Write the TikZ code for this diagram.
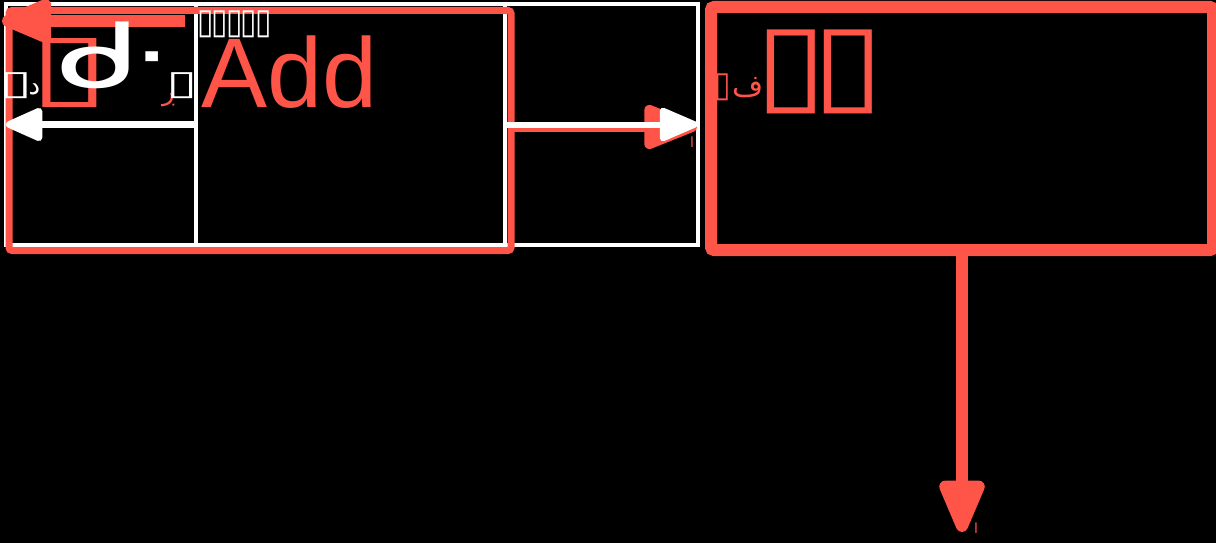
\documentclass[tikz,border=0pt]{standalone}
\usepackage{fontspec}
\setmainfont{DejaVu Sans}
\newfontfamily\arabicfont[Script=Arabic]{DejaVu Sans}
\newfontfamily\arialfont{Liberation Sans}
\usetikzlibrary{arrows.meta}
\TeXXeTstate=1
\definecolor{myred}{RGB}{255,84,72}
\newcommand{\tofu}[2]{\resizebox*{#1pt}{#2pt}{▯}}
\tikzset{
  cellbox/.style={draw=white, line width=4pt, inner sep=0pt, outer sep=0pt},
  redbox/.style={draw=myred, inner sep=0pt, outer sep=0pt, rounded corners=3pt},
  txt/.style={inner sep=0pt, outer sep=0pt, anchor=base west},
}
\begin{document}
\begin{tikzpicture}[x=1pt,y=-1pt]
\fill[black] (0,0) rectangle (1216,543);
\useasboundingbox (0,0) rectangle (1216,543);
% white cells
\node[cellbox, minimum width=190pt, minimum height=241pt] (c1) at (101,124.5) {};
\node[cellbox, minimum width=309pt, minimum height=241pt] (c2) at (350.5,124.5) {};
\node[cellbox, minimum width=193pt, minimum height=241pt] (c3) at (601.5,124.5) {};
% red boxes
\node[redbox, line width=7pt, minimum width=502pt, minimum height=240pt] (r1) at (260,130.5) {};
\node[redbox, line width=12pt, minimum width=502pt, minimum height=243pt] (r2) at (962,128.5) {};
% coordinates
\coordinate (ta) at (185,21);
\coordinate (tb) at (2,21);
\coordinate (ma) at (511,127);
\coordinate (mb) at (697,127);
\coordinate (db) at (962,532);
% arrows
\draw[myred, line width=12pt, -{Triangle[length=60pt,width=46pt,round]}] (ta) -- (tb);
\draw[white, line width=7pt, -{Triangle[length=42pt,width=35pt,round]}] (c1.east) -- (c1.west);
\draw[myred, line width=10pt, -{Triangle[length=62pt,width=46pt,round]}] (ma) -- (mb);
\draw[white, line width=6pt, -{Triangle[length=43pt,width=35pt,round]}] (c2.east) -- (c3.east);
\draw[myred, line width=12pt, -{Triangle[length=62pt,width=48pt,round]}] (r2.south) -- (db);
% texts
\node[txt, text=myred] (t1) at (29.7,97) {\tofu{80.6}{69}};
\node[txt, text=white] (t2) at (57,88) {\fontsize{90}{90}\selectfont\scalebox{1.5}[1]{ᑯ}\kern-8pt\raisebox{-5pt}{\scalebox{1.4}[1.1]{ᐧ}}};
\node[txt, text=white] (t3) at (-0.5,94.2) {\tofu{33}{26}\hspace{-4pt}\fontsize{26}{26}\selectfont\arabicfont\beginR د\endR};
\node[txt, text=myred] (t4) at (162,100) {\fontsize{26}{26}\selectfont\arabicfont\beginR ڔ\endR};
\node[txt, text=white] (t5) at (166.8,94.2) {\tofu{31.3}{26}};
\node[txt, text=white] (t6) at (197.3,34) {\tofu{16.4}{27}\hspace{-1.9pt}\tofu{16.4}{27}\hspace{-1.9pt}\tofu{16.4}{27}\hspace{-1.9pt}\tofu{16.4}{27}\hspace{-1.9pt}\tofu{16.4}{27}};
\node[txt, text=myred] (t7) at (201,107) {\fontsize{99}{99}\selectfont\arialfont Add};
\node[txt, text=myred] (t8) at (714.3,96) {\tofu{16.4}{27}\hspace{2pt}\fontsize{30}{30}\selectfont\arabicfont\beginR ف\endR};
\node[txt, text=myred] (t9) at (755.2,100) {\tofu{71.6}{84}\hspace{-14.6pt}\tofu{71.6}{84}};
\node[txt, text=myred] (t10) at (690,147) {\fontsize{14}{14}\selectfont\arabicfont\beginR ا\endR};
\node[txt, text=myred] (t11) at (974,533) {\fontsize{14}{14}\selectfont\arabicfont\beginR ا\endR};
\end{tikzpicture}
\end{document}
